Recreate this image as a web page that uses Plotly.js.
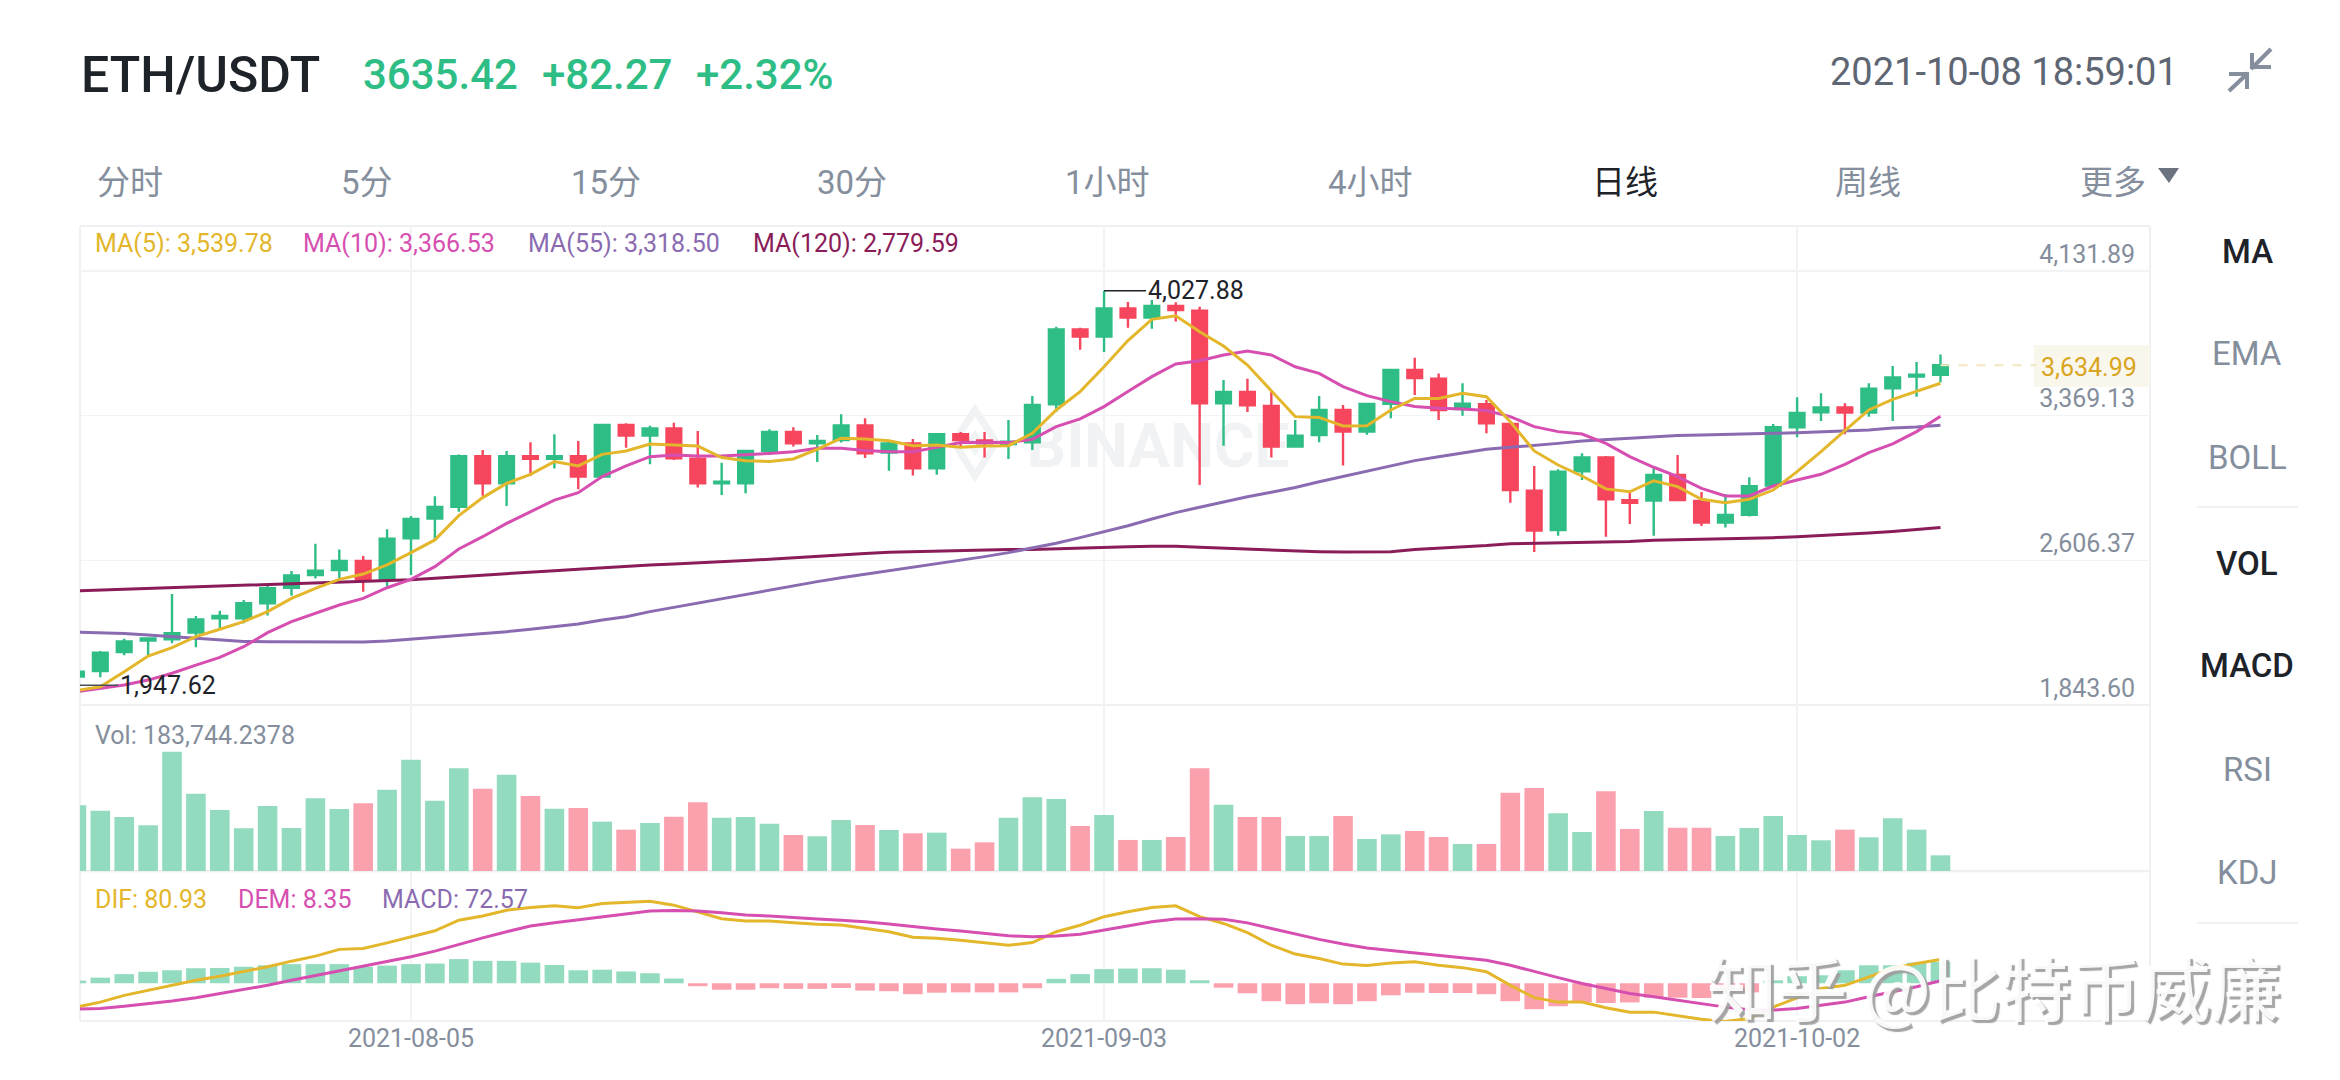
<!DOCTYPE html>
<html><head><meta charset="utf-8">
<script src="https://cdn.plot.ly/plotly-3.0.1.min.js"></script>
<style>html,body{margin:0;padding:0;background:#fff}#c{width:2340px;height:1080px}</style>
</head><body><div id="c"></div>
<script>
const dates=["2021-07-22","2021-07-23","2021-07-24","2021-07-25","2021-07-26","2021-07-27","2021-07-28","2021-07-29","2021-07-30","2021-07-31",
"2021-08-01","2021-08-02","2021-08-03","2021-08-04","2021-08-05","2021-08-06","2021-08-07","2021-08-08","2021-08-09","2021-08-10",
"2021-08-11","2021-08-12","2021-08-13","2021-08-14","2021-08-15","2021-08-16","2021-08-17","2021-08-18","2021-08-19","2021-08-20",
"2021-08-21","2021-08-22","2021-08-23","2021-08-24","2021-08-25","2021-08-26","2021-08-27","2021-08-28","2021-08-29","2021-08-30",
"2021-08-31","2021-09-01","2021-09-02","2021-09-03","2021-09-04","2021-09-05","2021-09-06","2021-09-07","2021-09-08","2021-09-09",
"2021-09-10","2021-09-11","2021-09-12","2021-09-13","2021-09-14","2021-09-15","2021-09-16","2021-09-17","2021-09-18","2021-09-19",
"2021-09-20","2021-09-21","2021-09-22","2021-09-23","2021-09-24","2021-09-25","2021-09-26","2021-09-27","2021-09-28","2021-09-29",
"2021-09-30","2021-10-01","2021-10-02","2021-10-03","2021-10-04","2021-10-05","2021-10-06","2021-10-07","2021-10-08"];
const open=[1993,2023,2123,2183,2190,2225,2301,2301,2380,2462,
2529,2555,2603,2506,2722,2826,2889,3156,3012,3156,
3142,3156,3048,3320,3264,3302,3142,3012,3012,3183,
3283,3223,3241,3318,3174,3223,3091,3271,3239,3220,
3229,3429,3824,3786,3935,3886,3947,3923,3434,3494,
3420,3206,3267,3399,3285,3432,3610,3564,3404,3429,
3325,2974,2766,3076,3149,2924,2921,3056,2919,2805,
2847,3000,3308,3387,3413,3385,3513,3575,3585];
const high=[2028,2128,2193,2195,2429,2313,2341,2397,2473,2550,
2694,2663,2629,2770,2840,2944,3165,3188,3183,3229,
3271,3236,3325,3329,3316,3332,3288,3121,3188,3297,
3308,3267,3376,3355,3241,3246,3276,3283,3283,3346,
3473,3838,3833,4027.88,3968,3979,3967,3944,3557,3564,
3504,3346,3473,3425,3434,3612,3675,3592,3540,3452,
3329,3104,3086,3171,3156,2968,3104,3162,2967,2956,
3044,3325,3466,3487,3434,3540,3631,3652,3692];
const low=[1947.62,1990,2106,2102,2169,2148,2246,2274,2315,2420,
2510,2512,2441,2468,2529,2714,2863,2947,2893,3051,
3091,2981,3048,3200,3113,3135,2991,2951,2960,3176,
3206,3125,3227,3146,3079,3053,3058,3209,3149,3141,
3188,3390,3717,3705,3833,3828,3865,3004,3211,3388,
3148,3200,3229,3106,3269,3355,3478,3346,3369,3276,
2910,2650,2736,3030,2731,2798,2736,2921,2787,2780,
2837,2995,3255,3341,3271,3364,3341,3469,3545];
const close=[2019,2120,2179,2195,2222,2295,2313,2380,2459,2527,
2552,2603,2506,2721,2824,2888,3156,3012,3156,3142,
3156,3048,3320,3264,3302,3144,3012,3021,3183,3283,
3223,3236,3318,3171,3223,3091,3271,3241,3223,3232,
3425,3824,3786,3935,3886,3947,3926,3434,3494,3424,
3206,3264,3399,3285,3431,3610,3568,3399,3432,3329,
2977,2763,3074,3149,2928,2910,3056,2924,2805,2845,
2997,3308,3383,3413,3385,3511,3571,3585,3634.99];
const ma5=[1919,1940,2019,2102,2146,2204,2243,2283,2336,2406,
2459,2506,2534,2582,2647,2714,2842,2937,3012,3060,
3127,3104,3165,3183,3220,3214,3209,3148,3132,3127,
3141,3192,3250,3246,3237,3211,3214,3202,3209,3211,
3276,3399,3496,3627,3765,3877,3896,3812,3736,3636,
3501,3364,3360,3315,3316,3399,3460,3460,3487,3469,
3337,3183,3109,3051,2983,2968,3026,2995,2928,2910,
2928,2977,3074,3179,3290,3399,3455,3496,3539.78];
const ma10=[1914,1931,1949,1975,2011,2054,2095,2151,2225,2283,
2327,2371,2406,2462,2506,2573,2666,2731,2801,2863,
2924,2963,3048,3104,3153,3162,3156,3156,3162,3170,
3179,3197,3197,3185,3179,3179,3202,3227,3229,3227,
3244,3311,3352,3417,3496,3575,3642,3659,3689,3710,
3689,3627,3592,3522,3475,3443,3417,3408,3404,3396,
3364,3311,3285,3272,3223,3153,3097,3048,2986,2946,
2946,2998,3030,3060,3112,3174,3220,3285,3366.53];
const ma55=[2227,2225,2221,2213,2204,2195,2186,2179,2177,2176,
2176,2176,2176,2181,2190,2200,2209,2218,2230,2243,
2257,2271,2292,2309,2336,2359,2380,2401,2424,2450,
2471,2494,2515,2533,2552,2573,2591,2608,2626,2647,
2670,2696,2726,2756,2789,2824,2858,2886,2916,2942,
2965,2990,3021,3048,3079,3106,3132,3153,3171,3192,
3202,3211,3223,3236,3244,3251,3258,3265,3267,3269,
3271,3276,3279,3285,3288,3294,3304,3309,3318.50];
const ma120=[2446,2450,2453,2457,2460,2464,2468,2473,2480,2483,
2487,2492,2496,2499,2504,2512,2520,2529,2538,2547,
2552,2559,2568,2575,2582,2587,2592,2598,2605,2612,
2620,2629,2638,2643,2649,2652,2656,2659,2661,2663,
2664,2668,2671,2675,2678,2680,2680,2675,2670,2666,
2661,2654,2652,2650,2650,2652,2664,2670,2675,2684,
2694,2696,2698,2699,2701,2705,2712,2715,2717,2719,
2720,2726,2731,2736,2742,2750,2759,2768,2779.59];
const volume=[770000,708000,633000,536000,1399000,907000,715000,500000,762000,504000,
852000,727000,794000,954000,1306000,825000,1204000,966000,1130000,880000,
731000,739000,579000,485000,563000,637000,805000,625000,633000,555000,
422000,407000,598000,539000,481000,442000,450000,262000,336000,625000,
864000,844000,528000,657000,364000,364000,399000,1204000,778000,633000,
633000,410000,410000,645000,375000,430000,469000,399000,317000,317000,
919000,973000,676000,457000,934000,493000,704000,508000,508000,410000,
504000,645000,422000,360000,485000,395000,618000,485000,183744.2378];
const macd=[9,19,31,39,44,51,52,56,61,65,
65,65,56,60,65,67,82,76,76,70,
62,44,46,40,34,16,-10,-22,-22,-17,
-19,-19,-16,-25,-27,-37,-32,-31,-31,-31,
-17,15,31,48,50,51,46,10,-15,-34,
-61,-71,-68,-71,-61,-41,-32,-33,-33,-37,
-61,-88,-78,-64,-67,-65,-49,-49,-50,-33,
-31,10,24,27,44,61,61,70,72.57];
const dif=[-81,-64,-41,-24,-7,10,24,39,56,75,
92,115,118,137,158,178,214,228,248,257,
263,256,271,274,278,265,243,219,211,211,
205,200,198,186,175,156,153,146,137,129,
138,175,197,226,243,257,263,226,203,172,
129,99,84,65,60,69,73,61,53,39,
-7,-49,-64,-64,-83,-98,-98,-109,-122,-130,
-120,-81,-50,-18,-7,22,50,67,80.93];
const dem=[-88,-86,-78,-70,-60,-49,-35,-22,-7,10,
26,42,59,74,90,109,132,154,175,194,
205,215,226,237,245,247,245,239,232,228,
222,218,214,209,201,192,184,177,169,161,
158,160,166,180,195,209,218,219,217,205,
186,167,149,133,120,111,103,95,87,78,
61,39,19,-1,-18,-35,-46,-58,-69,-81,
-90,-91,-86,-75,-64,-46,-29,-12,8.35];
const priceTicks=[1843.60,2606.37,3369.13,4131.89];
const priceTickText=["1,843.60","2,606.37","3,369.13","4,131.89"];
const dateTicks=["2021-08-05","2021-09-03","2021-10-02"];
const tabs=["分时","5分","15分","30分","1小时","4小时","日线","周线","更多"];
const indicators=["MA","EMA","BOLL","VOL","MACD","RSI","KDJ"];
const activeIndicators=["MA","VOL","MACD"];

const W=2340,H=1080;
const GREEN="#2EBD85",RED="#F6465D",VG="#93DBBE",VR="#FBA1AE";
const C5="#E3B62B",C10="#D64FB0",C55="#8A6BB1",C120="#8A1C5A";
const GRID="#F2F3F5",BORDER="#EEF0F2",GRAY="#848E9C";
const LAT="Roboto, 'Noto Sans CJK SC', sans-serif";
const px=x=>x/W, py=y=>1-y/H;

const common={x:dates,hoverinfo:"skip",showlegend:false};
const lineT=(y,c)=>({...common,type:"scatter",mode:"lines",y,yaxis:"y",line:{color:c,width:3}});
const volColors=close.map((c,i)=>c>=open[i]?VG:VR);
const macdColors=macd.map(v=>v>=0?VG:VR);

const data=[
 {...common,type:"candlestick",open,high,low,close,yaxis:"y",
  increasing:{line:{color:GREEN,width:2.4},fillcolor:GREEN},
  decreasing:{line:{color:RED,width:2.4},fillcolor:RED},whiskerwidth:0},
 lineT(ma120,C120),lineT(ma55,C55),lineT(ma10,C10),lineT(ma5,C5),
 {...common,type:"bar",y:volume,yaxis:"y2",marker:{color:volColors,line:{width:0}}},
 {...common,type:"bar",y:macd,yaxis:"y3",marker:{color:macdColors,line:{width:0}}},
 {...common,type:"scatter",mode:"lines",y:dif,yaxis:"y3",line:{color:C5,width:3}},
 {...common,type:"scatter",mode:"lines",y:dem,yaxis:"y3",line:{color:C10,width:3}}
];

function T(x,y,text,size,color,anchor,extra){
 return Object.assign({xref:"paper",yref:"paper",x:px(x),y:py(y),text,showarrow:false,
  xanchor:anchor||"left",yanchor:"middle",borderpad:0,
  font:{family:LAT,size,color}},extra||{});
}
const ann=[];
ann.push(T(80,75,"ETH/USDT",50,"#1E2329","left",{font:{family:LAT,size:50,color:"#1E2329",weight:500}}));
[["3635.42",362],["+82.27",541],["+2.32%",695]].forEach(a=>ann.push(T(a[1],75,a[0],42,GREEN,"left",{font:{family:LAT,size:42,color:GREEN,weight:500}})));
ann.push(T(2179,72,"2021-10-08 18:59:01",38,"#5E6673","right"));
const tabX=[130,367,606,852,1107,1370,1625,1868,2113];
tabs.forEach((t,i)=>ann.push(T(tabX[i],182,t,33,t==="日线"?"#1E2329":GRAY,"center")));
[[94,`MA(5): 3,539.78`,C5],[302,`MA(10): 3,366.53`,C10],[527,`MA(55): 3,318.50`,C55],[752,`MA(120): 2,779.59`,C120]]
 .forEach(a=>ann.push(T(a[0],244,a[1],25,a[2])));
ann.push(T(94,735,"Vol: 183,744.2378",25,GRAY));
[[94,"DIF: 80.93",C5],[237,"DEM: 8.35",C10],[381,"MACD: 72.57",C55]].forEach(a=>ann.push(T(a[0],899,a[1],25,a[2])));
const indY=[251,354,457,563,665,769,872];
indicators.forEach((t,i)=>{const on=activeIndicators.includes(t);
 ann.push(T(2247,indY[i],t,33,on?"#1E2329":GRAY,"center",{font:{family:LAT,size:33,color:on?"#1E2329":GRAY,weight:on?500:400}}));});
ann.push(T(2138,367,"3,634.99",25,"#D9A520","right"));
ann.push({xref:"x",yref:"y",x:"2021-09-03",y:4027.88,ax:42,ay:0,showarrow:true,arrowhead:0,arrowwidth:1.5,arrowcolor:"#1E2329",
 text:"4,027.88",xanchor:"left",yanchor:"middle",font:{family:LAT,size:25,color:"#1E2329"}});
ann.push({xref:"paper",yref:"y",x:px(80),y:1947.62,ax:38,ay:0,showarrow:true,arrowhead:0,arrowwidth:1.5,arrowcolor:"#4a4f57",
 text:"1,947.62",xanchor:"left",yanchor:"middle",font:{family:LAT,size:25,color:"#1E2329"}});
ann.push(T(2282,985,"知乎 @比特币威廉",70,"#FFFFFF","right",{font:{family:"'Noto Sans CJK SC', sans-serif",size:70,weight:500,color:"rgba(255,255,255,0.92)",shadow:"3px 3px 1px #9d9d9d"}}));

const P=(x,y)=>`${px(x)},${py(y)}`;
const poly=pts=>"M"+pts.map(p=>P(p[0],p[1])).join(" L");
const stroke=(path,c,w)=>({type:"path",xref:"paper",yref:"paper",path,line:{color:c,width:w},fillcolor:"rgba(0,0,0,0)"});
const hline=(y,x0,x1,c,w)=>({type:"line",xref:"paper",yref:"paper",x0:px(x0),x1:px(x1),y0:py(y),y1:py(y),line:{color:c,width:w},layer:"below"});
const WM="#F1F2F4";
const shapes=[
 hline(226,80,2150,BORDER,2),hline(705,80,2150,BORDER,2),hline(871,80,2150,BORDER,2.5),hline(1021,80,2150,BORDER,2),
 {type:"line",xref:"paper",yref:"paper",x0:px(80),x1:px(80),y0:py(226),y1:py(1021),line:{color:BORDER,width:2},layer:"below"},
 {type:"line",xref:"paper",yref:"paper",x0:px(2150),x1:px(2150),y0:py(226),y1:py(1021),line:{color:BORDER,width:2},layer:"below"},
 hline(507,2197,2298,BORDER,2),hline(923,2197,2298,BORDER,2),
 {type:"rect",xref:"paper",yref:"paper",x0:px(2034),x1:px(2150),y0:py(345),y1:py(387),line:{width:0},fillcolor:"#F9F6EC",layer:"below"},
 {type:"line",xref:"x",yref:"y",x0:"2021-10-08",x1:"2021-10-12",y0:3634.99,y1:3634.99,line:{color:"#F3E8BE",width:2,dash:"dash"}},
 stroke(poly([[2271,49],[2251,69]]),GRAY,4),stroke(poly([[2252,53],[2252,67],[2271,67]]),GRAY,4),
 stroke(poly([[2229,91],[2248,73]]),GRAY,4),stroke(poly([[2229,74],[2247,74],[2247,89]]),GRAY,4),
 {type:"path",xref:"paper",yref:"paper",path:poly([[2158,168],[2179,168],[2169,183]])+" Z",fillcolor:"#6B7280",line:{width:0}},
 {type:"rect",xref:"paper",yref:"paper",x0:px(1020),x1:px(1296),y0:py(415),y1:py(468),line:{width:0},fillcolor:"rgba(0,0,0,0)",layer:"below",
  label:{text:"BINANCE",textposition:"middle center",font:{family:LAT,size:62,color:WM,weight:700}}},
 {type:"path",xref:"paper",yref:"paper",path:poly([[975,410],[996,442],[975,476],[954,442]])+" Z",fillcolor:"rgba(0,0,0,0)",line:{color:WM,width:7},layer:"below"},
 {type:"path",xref:"paper",yref:"paper",path:poly([[975,430],[984,442],[975,456],[966,442]])+" Z",fillcolor:WM,line:{width:0},layer:"below"}
];

const layout={
 width:W,height:H,margin:{l:0,r:0,t:0,b:0},paper_bgcolor:"#fff",plot_bgcolor:"rgba(0,0,0,0)",
 showlegend:false,bargap:0.18,boxgap:0.12,dragmode:false,hovermode:false,
 xaxis:{type:"date",domain:[px(80),px(2150)],range:["2021-07-22 03:36","2021-10-16 18:24"],anchor:"y3",
  rangeslider:{visible:false},tickmode:"array",tickvals:dateTicks,ticktext:dateTicks,ticks:"",
  tickfont:{family:LAT,size:25,color:GRAY},showgrid:true,gridcolor:GRID,gridwidth:1.5,zeroline:false,showline:false,fixedrange:true},
 yaxis:{domain:[py(705),py(226)],range:[1843.6,4369.1],side:"right",anchor:"x",tickmode:"array",tickvals:priceTicks,ticktext:priceTickText,
  ticks:"",ticklabelposition:"inside",ticklabelstandoff:12,ticklabelshift:-17,tickfont:{family:LAT,size:25,color:GRAY},
  showgrid:true,gridcolor:GRID,gridwidth:1.5,zeroline:false,showline:false,fixedrange:true},
 yaxis2:{domain:[py(871),py(705)],range:[0,1946700],anchor:"x",showticklabels:false,ticks:"",showgrid:false,zeroline:false,fixedrange:true},
 yaxis3:{domain:[py(1021),py(871)],range:[-128.1,381],anchor:"x",showticklabels:false,ticks:"",showgrid:false,zeroline:false,fixedrange:true},
 annotations:ann,shapes
};
Plotly.newPlot("c",data,layout,{displayModeBar:false,staticPlot:true});
</script></body></html>
